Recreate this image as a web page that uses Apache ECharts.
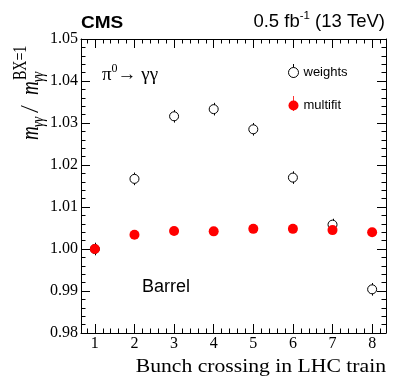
<!DOCTYPE html>
<html>
<head>
<meta charset="utf-8">
<script src="https://cdn.jsdelivr.net/npm/echarts@6/dist/echarts.min.js"></script>
<style>
  html, body { margin: 0; padding: 0; background: #fff; }
  #wrap { position: relative; width: 407px; height: 391px; }
  .layer { position: absolute; left: 0; top: 0; width: 407px; height: 391px; pointer-events: none; }
  #chart { pointer-events: auto; }
</style>
</head>
<body>
<div id="wrap">
  <div id="chart" class="layer"></div>
  <div id="t0" class="layer"></div>
  <div id="t1" class="layer"></div>
  <div id="t2" class="layer"></div>
  <div id="t3" class="layer"></div>
</div>
<script>
// bunch crossing index in the train
var bunch = [1, 2, 3, 4, 5, 6, 7, 8];
// m(gg) / m(gg, BX=1)
var weights = [1.0000, 1.0167, 1.0316, 1.0333, 1.0285, 1.0170, 1.0058, 0.9904];
var weightsErr = [0.0015, 0.0015, 0.0015, 0.0015, 0.0015, 0.0015, 0.0014, 0.0015];
var multifit = [1.0000, 1.0034, 1.0043, 1.0042, 1.0048, 1.0048, 1.0045, 1.0040];
var multifitErr = [0.0000, 0.0005, 0.0005, 0.0005, 0.0005, 0.0005, 0.0005, 0.0005];
var xTicks = [1, 2, 3, 4, 5, 6, 7, 8];

var X_MIN = 0.65, X_MAX = 8.35, Y_MIN = 0.98, Y_MAX = 1.05;

// minor ticks every 0.2 between the majors
var xMinor = [];
for (var t = 0.8; t < 8.36; t += 0.2) {
  var r = Math.round(t * 10) / 10;
  if (Math.abs(r - Math.round(r)) > 0.01) xMinor.push(r);
}

var serif = '"Liberation Serif", "Times New Roman", serif';
var sans = '"Liberation Sans", Arial, Helvetica, sans-serif';
var GRID = { left: 81, top: 39, width: 305, height: 294 };

function errBar(color) {
  return function (params, api) {
    var x = api.value(0);
    var lo = api.coord([x, api.value(1)]);
    var hi = api.coord([x, api.value(2)]);
    return {
      type: 'line',
      shape: { x1: Math.round(lo[0]) + 0.5, y1: lo[1], x2: Math.round(hi[0]) + 0.5, y2: hi[1] },
      style: { stroke: color, lineWidth: 1 }
    };
  };
}

// ---- main chart: frame, labels, points, legend, texts ----
var chart = echarts.init(document.getElementById('chart'));

function xAxisCfg(pos) {
  return {
    type: 'value', position: pos, min: X_MIN, max: X_MAX,
    axisLine: { show: true, onZero: false, lineStyle: { color: '#000', width: 1 } },
    axisTick: { show: false },
    axisLabel: { show: pos === 'bottom', customValues: xTicks, fontFamily: serif, fontSize: 16, color: '#000', margin: 3 },
    splitLine: { show: false }
  };
}

function yAxisCfg(pos) {
  return {
    type: 'value', position: pos, min: Y_MIN, max: Y_MAX, interval: 0.01,
    axisLine: { show: true, onZero: false, lineStyle: { color: '#000', width: 1 } },
    axisTick: { show: false },
    axisLabel: {
      show: pos === 'left', fontFamily: serif, fontSize: 16, color: '#000', margin: 3,
      formatter: function (v) { return v.toFixed(2); }
    },
    splitLine: { show: false }
  };
}

chart.setOption({
  backgroundColor: '#fff',
  animation: false,
  grid: GRID,
  xAxis: [xAxisCfg('bottom'), xAxisCfg('top')],
  yAxis: [yAxisCfg('left'), yAxisCfg('right')],
  legend: {
    orient: 'vertical',
    left: 288,
    top: 66,
    padding: 0,
    itemWidth: 10,
    itemHeight: 10,
    itemGap: 20,
    data: [
      { name: 'weights', icon: 'circle', itemStyle: { color: '#fff', borderColor: '#000', borderWidth: 1 } },
      { name: 'multifit', icon: 'circle', itemStyle: { color: '#f00', borderWidth: 0 } }
    ],
    textStyle: { fontFamily: sans, fontSize: 13, color: '#000' }
  },
  graphic: [
    // error bars of the legend entries
    { type: 'line', z: 1, shape: { x1: 293.5, y1: 64, x2: 293.5, y2: 78 }, style: { stroke: '#000', lineWidth: 1 } },
    { type: 'line', z: 1, shape: { x1: 293.5, y1: 96, x2: 293.5, y2: 111 }, style: { stroke: '#f33', lineWidth: 1 } },
    {
      type: 'text', left: 81, top: 15, scaleX: 1.12,
      style: { text: 'CMS', font: 'bold 17px ' + sans, fill: '#000' }
    },
    {
      type: 'text', x: 385, y: 31,
      style: {
        text: '{a|0.5 fb}{s|-1}{a| (13 TeV)}',
        align: 'right', verticalAlign: 'bottom',
        rich: {
          a: { fontFamily: sans, fontSize: 18.5, lineHeight: 21, fill: '#000', verticalAlign: 'bottom' },
          s: { fontFamily: sans, fontSize: 11.5, lineHeight: 12, fill: '#000', verticalAlign: 'top' }
        }
      }
    },
    {
      type: 'text', x: 102, y: 85,
      style: {
        text: '{a|π}{s|0}{a|→ γγ}',
        align: 'left', verticalAlign: 'bottom',
        rich: {
          a: { fontFamily: serif, fontSize: 19, lineHeight: 22, fill: '#000', verticalAlign: 'bottom' },
          s: { fontFamily: serif, fontSize: 12, lineHeight: 14, fill: '#000', verticalAlign: 'top' }
        }
      }
    },
    {
      type: 'text', x: 142, y: 287,
      style: { text: 'Barrel', font: '18px ' + sans, fill: '#000', align: 'left', verticalAlign: 'middle' }
    },
    {
      type: 'text', x: 386, y: 367, scaleX: 1.14,
      style: { text: 'Bunch crossing in LHC train', font: '19px ' + serif, fill: '#000', align: 'right', verticalAlign: 'middle' }
    },
    {
      // rotated y-axis title, reading bottom to top
      type: 'group', x: 39, y: 40, rotation: Math.PI / 2, scaleY: 1.3,
      children: [
        { type: 'text', x: -100, y: -6, style: { text: 'm', font: 'italic 19px ' + serif, fill: '#000', verticalAlign: 'middle' } },
        { type: 'text', x: -87, y: 0, style: { text: 'γγ', font: 'italic 13px ' + serif, fill: '#000', verticalAlign: 'middle' } },
        { type: 'text', x: -72, y: -6, style: { text: '/', font: 'italic 19px ' + serif, fill: '#000', verticalAlign: 'middle' } },
        { type: 'text', x: -55, y: -6, style: { text: 'm', font: 'italic 19px ' + serif, fill: '#000', verticalAlign: 'middle' } },
        { type: 'text', x: -42, y: 0, style: { text: 'γγ', font: 'italic 13px ' + serif, fill: '#000', verticalAlign: 'middle' } },
        { type: 'text', x: -40, y: -14, style: { text: 'BX=1', font: '14px ' + serif, fill: '#000', verticalAlign: 'middle' } }
      ]
    }
  ],
  series: [
    {
      name: 'weights err',
      type: 'custom',
      z: 2,
      renderItem: errBar('#000'),
      data: bunch.map(function (x, i) { return [x, weights[i] - weightsErr[i], weights[i] + weightsErr[i]]; })
    },
    {
      name: 'weights',
      type: 'scatter',
      z: 3,
      symbol: 'circle',
      symbolSize: 9,
      itemStyle: { color: '#fff', borderColor: '#000', borderWidth: 1, opacity: 1 },
      data: bunch.map(function (x, i) { return [x, weights[i]]; })
    },
    {
      name: 'multifit err',
      type: 'custom',
      z: 4,
      renderItem: errBar('#f00'),
      data: bunch.map(function (x, i) { return [x, multifit[i] - multifitErr[i], multifit[i] + multifitErr[i]]; })
    },
    {
      name: 'multifit',
      type: 'scatter',
      z: 5,
      symbol: 'circle',
      symbolSize: 10,
      itemStyle: { color: '#f00', opacity: 1 },
      data: bunch.map(function (x, i) { return [x, multifit[i]]; })
    }
  ]
});

// ---- transparent tick layers on the same grid and scales ----
function tickLayer(id, xPos, xVals, xLen, withY) {
  var c = echarts.init(document.getElementById(id));
  var tickY = function (pos) {
    return {
      type: 'value', position: pos, min: Y_MIN, max: Y_MAX, interval: 0.01,
      axisLine: { show: false, onZero: false },
      axisTick: { show: true, inside: true, length: 9, lineStyle: { color: '#000', width: 1 } },
      minorTick: { show: true, splitNumber: 5, length: 4.5, lineStyle: { color: '#000', width: 1 } },
      axisLabel: { show: false },
      splitLine: { show: false }
    };
  };
  c.setOption({
    backgroundColor: 'transparent',
    animation: false,
    grid: GRID,
    xAxis: {
      type: 'value', position: xPos, min: X_MIN, max: X_MAX,
      axisLine: { show: false, onZero: false },
      axisTick: { show: true, inside: true, length: xLen, customValues: xVals, lineStyle: { color: '#000', width: 1 } },
      axisLabel: { show: false },
      splitLine: { show: false }
    },
    yAxis: withY ? [tickY('left'), tickY('right')] : { type: 'value', show: false, min: Y_MIN, max: Y_MAX, splitLine: { show: false } },
    series: [{ type: 'scatter', silent: true, data: [] }]
  });
}

tickLayer('t0', 'bottom', xTicks, 9, true);
tickLayer('t1', 'bottom', xMinor, 4.5, false);
tickLayer('t2', 'top', xTicks, 9, false);
tickLayer('t3', 'top', xMinor, 4.5, false);
</script>
</body>
</html>
